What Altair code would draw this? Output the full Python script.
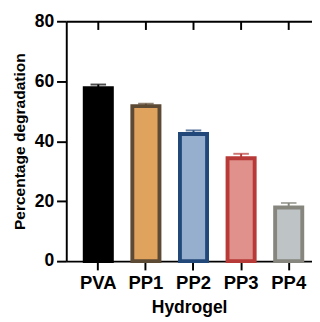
import altair as alt
import pandas as pd

categories = ["PVA", "PP1", "PP2", "PP3", "PP4"]
means = [57.7, 51.7, 42.4, 34.3, 17.9]
errors = [1.2, 0.8, 1.2, 1.5, 1.5]
fills = ["#000000", "#E0A35E", "#97AFCF", "#E0918B", "#BEC3C6"]
strokes = ["#000000", "#5C4A35", "#22487A", "#B83A38", "#86867E"]
y_ticks = [0, 20, 40, 60, 80]
y_top = 80
top_tick_end = 77.1

df = pd.DataFrame({
    "Hydrogel": categories,
    "mean": means,
    "upper": [m + e for m, e in zip(means, errors)],
    "ytop": [y_top] * len(categories),
    "tick_end": [top_tick_end] * len(categories),
})

FONT = "Liberation Sans"
W, H = 253, 247

xscale = alt.Scale(domain=categories, paddingInner=0.43, paddingOuter=0.296, align=0.655)
yscale = alt.Scale(domain=[0, 80], nice=False)
fill_scale = alt.Scale(domain=categories, range=fills)
stroke_scale = alt.Scale(domain=categories, range=strokes)

yaxis = alt.Axis(title="Percentage degradation", values=y_ticks,
                 labelFontSize=18, labelFontWeight="bold", labelFont=FONT, labelColor="black",
                 titleFontSize=16, titleFontWeight="bold", titleFont=FONT, titleColor="black",
                 tickSize=10, tickWidth=2, tickColor="black",
                 domainWidth=2, domainColor="black",
                 labelPadding=3, titlePadding=7, grid=False)
xaxis_bottom = alt.Axis(orient="bottom", title="Hydrogel", labelAngle=0,
                        labelFontSize=19, labelFontWeight="bold", labelFont=FONT, labelColor="black",
                        titleFontSize=18, titleFontWeight="bold", titleFont=FONT, titleColor="black",
                        tickSize=9, tickWidth=2, tickColor="black",
                        domainWidth=2, domainColor="black",
                        labelPadding=4, titlePadding=7, grid=False)
xaxis_top = alt.Axis(orient="top", title=None, labels=False, ticks=False,
                     domain=True, domainWidth=2, domainColor="black", grid=False)

base = alt.Chart(df)

bars = base.mark_bar(strokeWidth=4).encode(
    x=alt.X("Hydrogel:N", scale=xscale, sort=categories, axis=xaxis_bottom),
    y=alt.Y("mean:Q", scale=yscale, axis=yaxis),
    fill=alt.Fill("Hydrogel:N", scale=fill_scale, legend=None),
    stroke=alt.Stroke("Hydrogel:N", scale=stroke_scale, legend=None),
)

top_ticks = base.mark_bar(size=2).encode(
    x=alt.X("Hydrogel:N", scale=xscale, sort=categories, axis=None),
    y=alt.Y("ytop:Q", scale=yscale, axis=yaxis),
    y2="tick_end:Q",
    fill=alt.value("black"),
)

err_rule = base.mark_rule(strokeWidth=2).encode(
    x=alt.X("Hydrogel:N", scale=xscale, sort=categories, axis=None),
    y=alt.Y("mean:Q", scale=yscale, axis=yaxis),
    y2="upper:Q",
    stroke=alt.Stroke("Hydrogel:N", scale=stroke_scale, legend=None),
)

err_cap = base.mark_tick(thickness=2, size=16).encode(
    x=alt.X("Hydrogel:N", scale=xscale, sort=categories, axis=xaxis_top),
    y=alt.Y("upper:Q", scale=yscale, axis=yaxis),
    color=alt.Color("Hydrogel:N", scale=stroke_scale, legend=None),
)

chart = alt.layer(bars, top_ticks, err_rule, err_cap).resolve_axis(
    x="independent"
).properties(
    width=W, height=H,
    autosize=alt.AutoSizeParams(type="none"),
    padding={"left": 60, "top": 9, "right": 0, "bottom": 58},
).configure_view(stroke=None)

chart.save("out.html", embed_options={"renderer": "svg", "actions": False})
